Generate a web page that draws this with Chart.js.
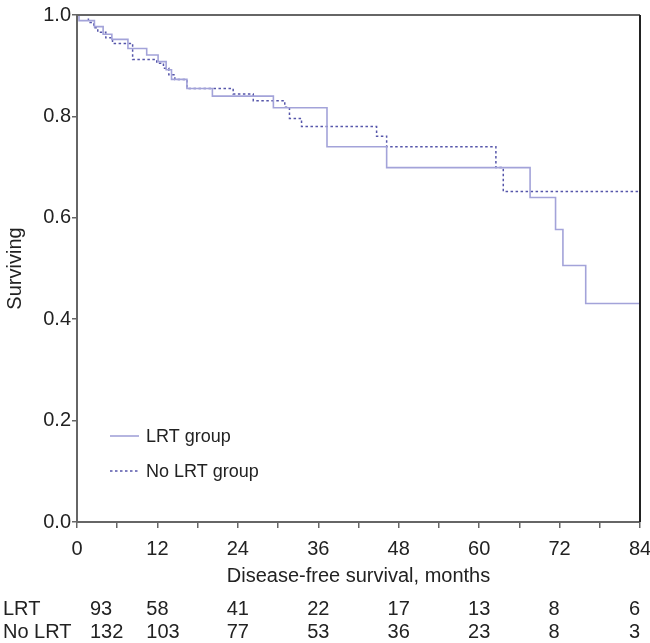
<!DOCTYPE html>
<html>
<head>
<meta charset="utf-8">
<script src="https://cdn.jsdelivr.net/npm/chart.js@4/dist/chart.umd.min.js"></script>
<style>
  html, body { margin: 0; padding: 0; background: #fff; }
  #wrap { width: 650px; height: 643px; }
</style>
</head>
<body>
<div id="wrap"><canvas id="km" width="650" height="643"></canvas></div>
<script>
// Kaplan-Meier steps (months, survival after the drop)
var lrtMonths = [0, 0.3, 2.6, 3.9, 5.2, 7.6, 10.4, 12.1, 13.3, 14.1, 16.4, 20.2, 29.3, 37.3, 46.2, 67.6, 71.4, 72.5, 75.9, 84];
var lrtSurv   = [1.0, 0.989, 0.977, 0.962, 0.952, 0.934, 0.921, 0.908, 0.892, 0.873, 0.855, 0.840, 0.817, 0.740, 0.699, 0.640, 0.577, 0.506, 0.431, 0.431];

var noLrtMonths = [0, 1.7, 2.5, 3.1, 4.3, 5.3, 8.3, 11.9, 12.9, 13.7, 14.6, 16.4, 23.3, 26.3, 31.0, 31.7, 33.5, 44.7, 46.2, 62.5, 63.6, 84];
var noLrtSurv   = [1.0, 0.985, 0.975, 0.966, 0.955, 0.944, 0.912, 0.905, 0.895, 0.882, 0.873, 0.855, 0.844, 0.831, 0.818, 0.796, 0.780, 0.761, 0.740, 0.699, 0.652, 0.652];

// numbers at risk table
var riskMonths  = [0, 12, 24, 36, 48, 60, 72, 84];
var lrtAtRisk   = [93, 58, 41, 22, 17, 13, 8, 6];
var noLrtAtRisk = [132, 103, 77, 53, 36, 23, 8, 3];
var riskRows    = ['LRT', 'No LRT'];

var FONT = 'Liberation Sans, Arial, Helvetica, sans-serif';
var FS = 20;
var AXIS_COL = '#666';

function toPoints(xs, ys) {
  return xs.map(function (x, i) { return {x: x, y: ys[i]}; });
}

// frame, in-plot legend and the at-risk table
var extras = {
  id: 'extras',
  afterDraw: function (chart) {
    var ctx = chart.ctx, a = chart.chartArea, xs = chart.scales.x;
    ctx.save();

    // top and right border of the box
    ctx.strokeStyle = AXIS_COL;
    ctx.lineWidth = 2;
    ctx.beginPath();
    ctx.moveTo(a.left, a.top);
    ctx.lineTo(a.right, a.top);
    ctx.stroke();
    ctx.strokeStyle = '#222';
    ctx.beginPath();
    ctx.moveTo(a.right, a.top);
    ctx.lineTo(a.right, a.bottom);
    ctx.stroke();

    // legend
    ctx.font = '18px ' + FONT;
    ctx.textBaseline = 'middle';
    ctx.textAlign = 'left';
    chart.data.datasets.forEach(function (ds, i) {
      var y = 436 + i * 35;
      ctx.strokeStyle = ds.borderColor;
      ctx.lineWidth = ds.borderWidth;
      ctx.setLineDash(ds.borderDash || []);
      ctx.beginPath();
      ctx.moveTo(110, y);
      ctx.lineTo(139, y);
      ctx.stroke();
      ctx.setLineDash([]);
      ctx.fillStyle = '#222';
      ctx.fillText(ds.label, 146, y + 1);
    });

    // numbers at risk, left aligned under the tick labels
    ctx.font = FS + 'px ' + FONT;
    var half = ctx.measureText('00').width / 2;
    [lrtAtRisk, noLrtAtRisk].forEach(function (row, r) {
      var y = 609 + r * 23;
      ctx.textAlign = 'left';
      ctx.fillText(riskRows[r], 3, y);
      row.forEach(function (n, i) {
        var x = xs.getPixelForValue(riskMonths[i]) - half;
        if (i === 0) x = xs.getPixelForValue(riskMonths[i]) + 13;
        ctx.fillText(String(n), x, y);
      });
    });
    ctx.restore();
  }
};

new Chart(document.getElementById('km'), {
  type: 'line',
  data: {
    datasets: [
      {
        label: 'LRT group',
        data: toPoints(lrtMonths, lrtSurv),
        stepped: true,
        borderColor: '#a3a3d9',
        borderWidth: 1.6,
        pointRadius: 0,
        fill: false
      },
      {
        label: 'No LRT group',
        data: toPoints(noLrtMonths, noLrtSurv),
        stepped: true,
        borderColor: '#5656aa',
        borderWidth: 1.5,
        borderDash: [2.5, 2.5],
        pointRadius: 0,
        fill: false
      }
    ]
  },
  options: {
    responsive: false,
    animation: false,
    layout: { padding: { left: 0, right: 10, top: 15, bottom: 55 } },
    plugins: { legend: { display: false }, tooltip: { enabled: false } },
    scales: {
      x: {
        type: 'linear',
        min: 0, max: 84,
        afterFit: function (s) { s.height = 66; s.paddingLeft = 0; s.paddingRight = 0; },
        ticks: {
          stepSize: 6, autoSkip: false, maxRotation: 0, padding: 9,
          color: '#222', font: { family: FONT, size: FS },
          callback: function (v) { return v % 12 === 0 ? String(v) : ''; }
        },
        grid: { drawOnChartArea: false, drawTicks: true, tickLength: 6, color: AXIS_COL, lineWidth: 1.5 },
        border: { display: true, color: AXIS_COL, width: 2 },
        title: { display: true, text: 'Disease-free survival, months', color: '#222',
                 font: { family: FONT, size: FS }, padding: { top: 0, bottom: 0 } }
      },
      y: {
        min: 0, max: 1,
        afterFit: function (s) { s.width = 77; },
        ticks: {
          stepSize: 0.2, padding: 1, color: '#222', font: { family: FONT, size: FS },
          callback: function (v) { return v.toFixed(1); }
        },
        grid: { drawOnChartArea: false, drawTicks: true, tickLength: 5, color: AXIS_COL, lineWidth: 1.5 },
        border: { display: true, color: AXIS_COL, width: 2 },
        title: { display: true, text: 'Surviving', color: '#222',
                 font: { family: FONT, size: FS }, padding: { top: 3, bottom: 0 } }
      }
    }
  },
  plugins: [extras]
});
</script>
</body>
</html>
